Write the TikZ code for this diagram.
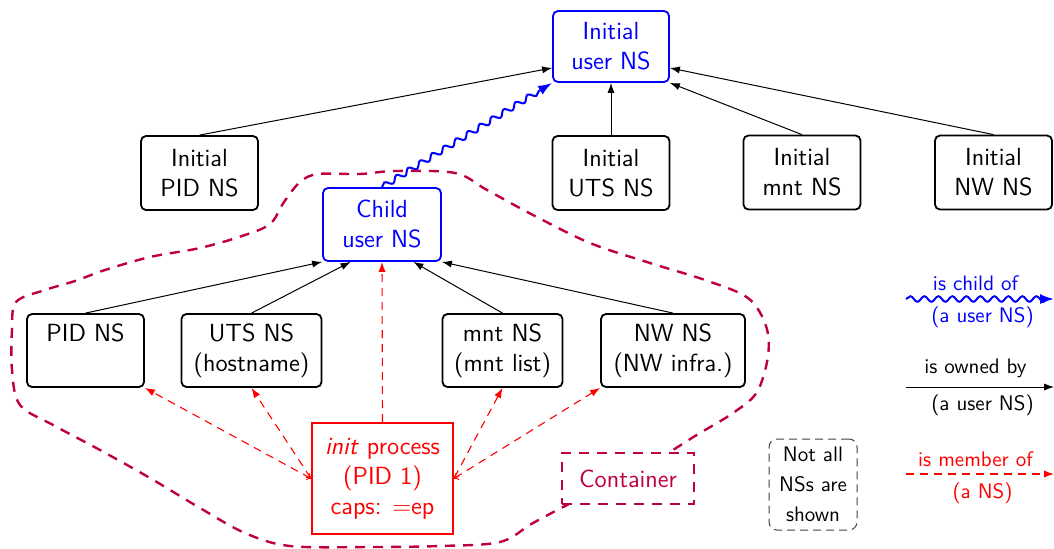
\documentclass[tikz,border=0pt]{standalone}
\usetikzlibrary{arrows.meta,decorations.pathmorphing,calc}
\newcommand\fmain{\sffamily\fontsize{12.4}{15}\selectfont}
\newcommand\fsmall{\sffamily\fontsize{10.5}{15}\selectfont}
\tikzset{
  ns/.style={draw, rounded corners=2.5pt, line width=0.9pt, align=center, font=\fmain,
    inner xsep=3pt, inner ysep=2pt, minimum height=36.5pt, minimum width=58.5pt},
  owned/.style={-{Latex[length=5pt,width=3.6pt]}, line width=0.5pt},
  child/.style={blue, line width=1pt, -{Latex[length=7pt,width=5pt]},
    decorate, decoration={snake, amplitude=1.4pt, segment length=7pt, post length=5pt}},
  member/.style={red, line width=0.55pt, dash pattern=on 4pt off 3pt, -{Latex[length=5pt,width=3.6pt]}},
  membert/.style={red, line width=0.55pt, dash pattern=on 4pt off 3pt, {to}-{Latex[length=5pt,width=3.6pt]}},
  blob/.style={draw=purple, line width=1.2pt, dash pattern=on 5pt off 4pt},
  lbl/.style={font=\fsmall, inner sep=0pt},
}
\begin{document}
\begin{tikzpicture}[x=0.5pt,y=-0.5pt]
\useasboundingbox (0,0) rectangle (1054,548);

% container outline
\draw[blob] plot[smooth cycle, tension=0.55] coordinates {
 (12,330) (16,302) (45,290) (75,281) (105,270) (150,257) (200,248) (242,236)
 (270,224) (284,202) (300,182) (318,174) (360,174) (395,171) (455,173)
 (487,190) (533,215) (590,243) (650,263) (705,280) (748,298) (766,326)
 (768,356) (757,392) (733,413) (695,436) (640,470) (575,501) (533,523)
 (500,542) (440,546) (370,547) (290,546) (245,533) (200,508) (150,478)
 (100,450) (55,426) (20,405) (12,370)};

% nodes
\node[ns, blue, minimum width=58pt, minimum height=35.5pt] (iu) at (611,46.5) {Initial\\user NS};
\node[ns, minimum height=37pt] (ipid) at (199.5,173) {Initial\\PID NS};
\node[ns, minimum height=37pt] (iuts) at (611,173) {Initial\\UTS NS};
\node[ns, minimum height=37pt] (imnt) at (802,172.5) {Initial\\mnt NS};
\node[ns, minimum height=37pt] (inw) at (993.5,172.5) {Initial\\NW NS};
\node[ns, blue, minimum width=59pt] (cu) at (382,224.5) {Child\\user NS};
\node[ns] (pid) at (85.5,350.5) {PID NS\\\phantom{(h)}};
\node[ns, minimum width=70pt] (uts) at (251.5,350.5) {UTS NS\\(hostname)};
\node[ns, minimum width=60pt] (mnt) at (502.5,350.5) {mnt NS\\(mnt list)};
\node[ns, minimum width=72pt] (nw) at (673,350.5) {NW NS\\(NW infra.)};
\node[draw=red, text=red, line width=0.9pt, align=center, font=\fmain,
  minimum width=70.5pt, minimum height=55.5pt, inner sep=2pt] (init) at (382.5,478.5)
  {\textit{init} process\\(PID 1)\\caps: =ep};
\node[draw=purple, text=purple, fill=white, line width=1.2pt, dash pattern=on 5pt off 4pt,
  font=\fmain, minimum width=66pt, minimum height=25.5pt] (cont) at (628,478.5) {Container};
\node[draw=black!75, rounded corners=4pt, line width=0.5pt, dash pattern=on 4pt off 2.5pt,
  align=center, font=\fsmall, minimum width=44pt, minimum height=45.5pt, inner sep=2pt]
  (notall) at (813,484.5) {Not all\\NSs are\\shown};

% owned-by arrows
\draw[owned] (ipid.north) -- (iu.200);
\draw[owned] (iuts.north) -- (iu.south);
\draw[owned] (imnt.north) -- (iu.south east);
\draw[owned] (inw.north) -- (iu.340);
\draw[owned] (pid.north) -- (cu.south west);
\draw[owned] (uts.north) -- (cu.230);
\draw[owned] (mnt.north) -- (cu.310);
\draw[owned] (nw.north) -- (cu.south east);

% child-of
\draw[child] (cu.north) -- (iu.south west);

% member-of
\draw[member] (init.north) -- (cu.south);
\draw[membert] (init.west) -- (pid.south east);
\draw[membert] (init.west) -- (uts.south);
\draw[membert] (init.east) -- (mnt.south);
\draw[membert] (init.east) -- (nw.south west);

% legend
\coordinate (l1a) at (906,299); \coordinate (l1b) at (1054,299);
\coordinate (l2a) at (906,387); \coordinate (l2b) at (1054,387);
\coordinate (l3a) at (906,474); \coordinate (l3b) at (1054,474);
\draw[child, decoration={snake, amplitude=1.4pt, segment length=7pt, post length=3pt}] (l1a) -- (l1b);
\draw[owned] (l2a) -- (l2b);
\draw[member] (l3a) -- (l3b);
\node[lbl, blue] (t1) at (975.5,283) {is child of};
\node[lbl, blue] (b1) at (982.5,317) {(a user NS)};
\node[lbl] (t2) at (975.5,368) {is owned by};
\node[lbl] (b2) at (982.5,405) {(a user NS)};
\node[lbl, red] (t3) at (975.5,459) {is member of};
\node[lbl, red] (b3) at (982.5,493) {(a NS)};
\end{tikzpicture}
\end{document}
